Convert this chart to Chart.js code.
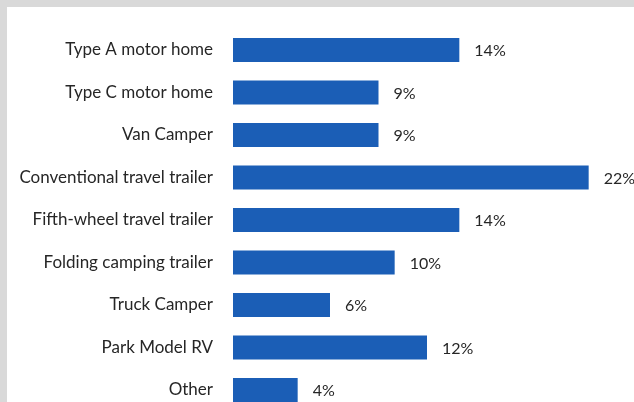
<!DOCTYPE html>
<html>
<head>
<meta charset="utf-8">
<script src="https://cdn.jsdelivr.net/npm/chart.js@4"></script>
<style>
  html, body { margin: 0; padding: 0; width: 634px; height: 402px; overflow: hidden; background: #d9d9d9; }
  #panel { position: absolute; left: 7px; top: 7px; width: 627px; height: 395px; background: #ffffff; }
  #wrap { position: absolute; left: 0; top: 0; width: 634px; height: 440px; }
  #c { display: block; width: 634px; height: 440px; }
</style>
</head>
<body>
<div id="panel"></div>
<div id="wrap"><canvas id="c" width="634" height="440"></canvas></div>
<script>
const categories = [
  "Type A motor home",
  "Type C motor home",
  "Van Camper",
  "Conventional travel trailer",
  "Fifth-wheel travel trailer",
  "Folding camping trailer",
  "Truck Camper",
  "Park Model RV",
  "Other"
];
const shares = [14, 9, 9, 22, 14, 10, 6, 12, 4];
const valueLabels = ["14%", "9%", "9%", "22%", "14%", "10%", "6%", "12%", "4%"];

const FONT = "Lato, 'Open Sans', sans-serif";
const TEXT = "#262626";

const valueLabelPlugin = {
  id: 'valueLabels',
  afterDatasetsDraw(chart) {
    const ctx = chart.ctx;
    const meta = chart.getDatasetMeta(0);
    ctx.save();
    ctx.font = "16px " + FONT;
    ctx.fillStyle = TEXT;
    ctx.textAlign = "left";
    ctx.textBaseline = "middle";
    meta.data.forEach((bar, i) => {
      ctx.fillText(valueLabels[i], bar.x + 15, bar.y + 1);
    });
    ctx.restore();
  }
};

new Chart(document.getElementById('c'), {
  type: 'bar',
  data: {
    labels: categories,
    datasets: [{
      data: shares,
      backgroundColor: '#1b5eb6',
      borderWidth: 0,
      categoryPercentage: 1.0,
      barPercentage: 0.565
    }]
  },
  options: {
    indexAxis: 'y',
    responsive: false,
    maintainAspectRatio: false,
    animation: false,
    devicePixelRatio: 1,
    layout: { padding: { left: 0, right: 13, top: 28.75, bottom: 28.75 } },
    plugins: {
      legend: { display: false },
      tooltip: { enabled: false },
      title: { display: false }
    },
    scales: {
      x: {
        display: false,
        min: 0,
        max: 24
      },
      y: {
        grid: { display: false, drawTicks: true, tickLength: 20, color: 'rgba(0,0,0,0)' },
        border: { display: false },
        ticks: {
          padding: 0,
          color: TEXT,
          font: { family: FONT, size: 17 }
        },
        afterFit(scale) { scale.width = 233; }
      }
    }
  },
  plugins: [valueLabelPlugin]
});
</script>
</body>
</html>
